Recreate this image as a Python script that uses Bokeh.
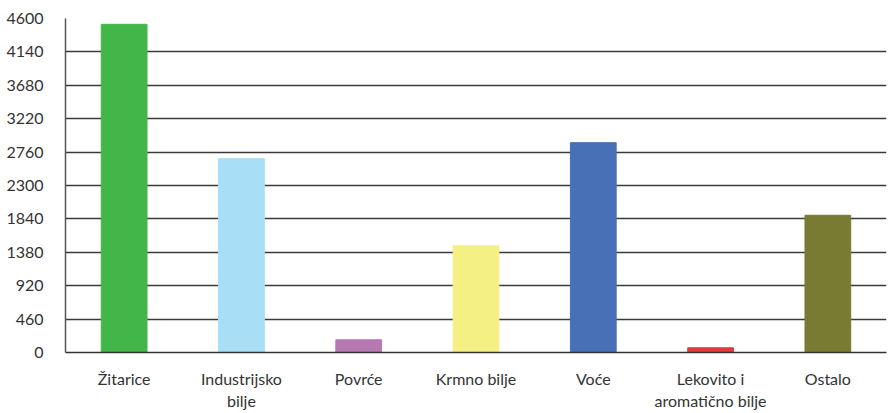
from bokeh.plotting import figure
from bokeh.models import ColumnDataSource, FactorRange, Range1d, FixedTicker
from bokeh.embed import file_html
from bokeh.resources import INLINE

categories = ["Žitarice", "Industrijsko\nbilje", "Povrće", "Krmno bilje", "Voće",
              "Lekovito i\naromatično bilje", "Ostalo"]
values = [4520, 2670, 175, 1470, 2890, 65, 1890]
colors = ["#43B649", "#A8DFF7", "#B678B0", "#F4F084", "#4870B7", "#E5383F", "#7A7B33"]
y_ticks = [0, 460, 920, 1380, 1840, 2300, 2760, 3220, 3680, 4140, 4600]

src = ColumnDataSource(dict(cat=categories, val=values, color=colors))

p = figure(x_range=FactorRange(*categories, range_padding=0), y_range=Range1d(0, 4600),
           width=888, height=413, output_backend="svg", toolbar_location=None,
           min_border_left=65, min_border_right=2, min_border_top=18, min_border_bottom=61)
p.vbar(x="cat", top="val", width=0.39, color="color", source=src)

p.outline_line_color = None
p.xgrid.grid_line_color = None
p.ygrid.grid_line_color = "#3a3a3a"
p.ygrid.grid_line_width = 1.3

p.yaxis.ticker = FixedTicker(ticks=y_ticks)
p.yaxis.axis_line_color = "#555555"
p.yaxis.axis_line_width = 1.5
p.yaxis.major_tick_line_color = None
p.yaxis.minor_tick_line_color = None
p.yaxis.major_label_standoff = 16
p.yaxis.major_label_text_font = "Lato"
p.yaxis.major_label_text_font_size = "16px"
p.yaxis.major_label_text_color = "#333333"

p.xaxis.axis_line_color = "#333333"
p.xaxis.axis_line_width = 1.5
p.xaxis.major_tick_line_color = None
p.xaxis.major_label_standoff = 10
p.xaxis.major_label_text_font = "Lato"
p.xaxis.major_label_text_font_size = "16px"
p.xaxis.major_label_text_color = "#333333"

open("out.html", "w").write(file_html(p, INLINE))
